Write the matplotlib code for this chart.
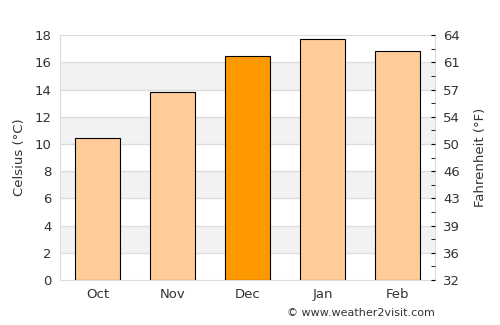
import matplotlib
matplotlib.use("Agg")
import matplotlib.pyplot as plt
import numpy as np

months = ["Oct", "Nov", "Dec", "Jan", "Feb"]
celsius = [10.4, 13.8, 16.5, 17.7, 16.8]
colors = ["#FFCC99", "#FFCC99", "#FF9900", "#FFCC99", "#FFCC99"]
c_ticks = [0, 2, 4, 6, 8, 10, 12, 14, 16, 18]
f_labels = ["32", "36", "39", "43", "46", "50", "54", "57", "61", "64"]

fig = plt.figure(figsize=(5, 3.25), dpi=100)
ax = fig.add_axes([0.12, 0.1385, 0.75, 0.7535])

ax.set_xlim(-0.5, 4.5)
ax.set_ylim(0, 18)
for lo in range(2, 18, 4):
    ax.axhspan(lo, lo + 2, color="#F2F2F2", zorder=0, lw=0)
for t in c_ticks[1:-1]:
    ax.axhline(t, color="#DDDDDD", lw=1, zorder=1)

x = np.arange(len(months))
ax.bar(x, celsius, width=0.6, color=colors, edgecolor="black", linewidth=0.8, zorder=3)

ax.set_xticks(x)
ax.set_xticklabels(months)
ax.set_yticks(c_ticks)
ax.tick_params(axis="both", length=0, labelsize=9.5, colors="#333333", pad=6)
for s in ax.spines.values():
    s.set_color("#DDDDDD")
ax.set_ylabel("Celsius (°C)", fontsize=9.5, color="#333333", labelpad=6)

ax2 = ax.twinx()
ax2.set_ylim(0, 18)
ax2.set_yticks(c_ticks)
ax2.set_yticklabels(f_labels)
ax2.set_yticks(range(1, 18, 2), minor=True)
ax2.tick_params(axis="y", which="both", direction="in", length=3, colors="black",
                labelcolor="#333333", labelsize=9.5, pad=6)
for s in ax2.spines.values():
    s.set_visible(False)
ax2.set_ylabel("Fahrenheit (°F)", fontsize=9.5, color="#333333", labelpad=10)

fig.text(0.87, 0.02, "© www.weather2visit.com", ha="right", va="bottom",
         fontsize=8, color="#333333")

fig.savefig("out.png", dpi=100)
